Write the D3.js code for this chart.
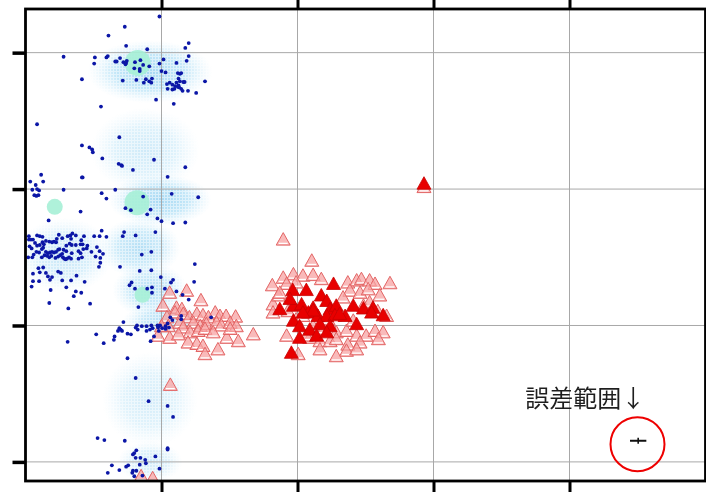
<!DOCTYPE html>
<html>
<head>
<meta charset="utf-8">
<script src="https://cdn.jsdelivr.net/npm/d3@7"></script>
<style>
  html, body { margin: 0; padding: 0; background: #fff; }
  svg { display: block; }
</style>
</head>
<body>
<svg id="chart" width="706" height="492"></svg>
<script>
// Grid positions on both axes (labels are not shown on this plot)
const xTicks = [200, 400, 600, 800];
const yTicks = [200, 400, 600, 800];

// Diffuse background population: soft clouds [x, y, spreadX, spreadY, strength]
const hazeClouds = [
  [183, 772, 92, 46, 1.0],
  [176, 657, 80, 62, 0.55],
  [198, 584, 76, 38, 1.0],
  [168, 514, 60, 44, 0.85],
  [58, 503, 70, 55, 0.65],
  [183, 452, 55, 40, 0.85],
  [205, 408, 62, 24, 0.85],
  [183, 291, 70, 70, 0.5],
  [183, 200, 48, 30, 0.55]
];

// Cluster centres [x, y, weight]
const mintBlobs = [
  [165, 785, 13],
  [43, 574, 8],
  [164, 580, 12.5],
  [172, 445, 8]
];

// Individual samples [x, y]
const blueDots = [
  [197,853],[146,838],[122,825],[240,814],[148,810],[235,807],[179,805],[56,794],[102,793],[121,795],
  [119,793],[139,792],[240,795],[203,790],[132,787],[134,787],[144,786],[149,788],[148,785],[147,783],
  [161,786],[169,789],[173,782],[101,784],[197,784],[237,788],[222,785],[182,780],[160,777],[168,776],
  [168,773],[200,773],[206,771],[224,770],[227,769],[229,770],[83,761],[143,759],[163,760],[177,761],
  [186,762],[174,756],[182,758],[185,756],[225,762],[264,758],[208,754],[212,756],[216,753],[220,751],
  [224,750],[226,749],[229,747],[231,744],[219,747],[216,746],[209,747],[222,756],[227,758],[232,757],
  [234,757],[239,744],[251,741],[225,752],[192,731],[218,725],[111,721],
  [17,695],[138,676],[83,664],[94,661],[98,658],[99,654],[113,645],[189,643],[137,637],[141,635],
  [142,634],[158,628],[235,632],[23,621],[83,617],[84,617],[209,618],[7,611],[26,611],[15,606],
  [10,599],[17,600],[20,598],[13,591],[16,590],[19,591],[56,599],[132,599],[112,594],[119,586],
  [173,589],[215,593],[254,588],[81,567],[147,572],[155,569],[184,570],[179,563],[194,557],[34,554],
  [200,553],[217,550],[235,551],
  [5,531],[8,526],[11,526],[17,532],[21,531],[25,530],[14,521],[17,517],[21,518],[25,522],
  [27,519],[30,524],[35,523],[39,522],[42,523],[30,508],[33,506],[36,507],[39,508],[42,507],
  [45,508],[48,511],[50,512],[16,508],[20,507],[24,512],[26,514],[12,504],[10,500],[24,500],
  [28,503],[32,502],[35,500],[38,502],[44,499],[48,501],[51,503],[55,500],[57,498],[61,498],
  [64,500],[67,498],[62,531],[66,532],[69,535],[74,532],[67,527],[82,525],[86,531],[101,531],
  [109,531],[112,539],[119,530],[60,517],[65,520],[68,518],[74,518],[81,519],[84,519],[91,517],
  [78,509],[81,506],[85,512],[90,513],[97,508],[105,515],[109,509],[114,505],[103,501],[110,499],
  [83,500],[78,498],[68,506],[60,509],[56,511],[54,505],[59,497],[45,522],[46,527],[49,533],
  [54,528],[4,500],[5,526],[9,513],[6,516],[11,476],[19,484],[26,485],[21,478],[30,477],
  [33,472],[36,467],[39,471],[48,479],[52,477],[54,466],[67,466],[75,473],[87,464],[20,465],
  [11,465],[9,457],[37,452],[60,456],[74,450],[82,448],[71,443],[35,433],[63,425],[95,432],
  [110,492],[108,486],[139,486],[145,537],[143,531],[162,532],[171,504],[185,508],[191,537],[185,481],
  [168,480],[156,463],[153,459],[161,454],[179,454],[186,456],[186,448],[166,427],[199,471],[217,467],
  [214,463],[205,454],[222,450],[231,445],[240,438],[249,490],[248,464],[229,414],[229,409],[213,412],
  [216,408],[144,405],[138,396],[164,400],[171,399],[178,399],[185,400],[194,400],[198,400],[206,399],
  [209,403],[273,412],
  [136,392],[140,394],[142,392],[150,388],[155,387],[162,397],[165,394],[178,392],[183,394],[187,396],
  [195,397],[196,392],[201,396],[206,395],[211,397],[104,387],[131,384],[130,379],[115,374],[62,376],
  [189,384],[184,377],[150,352],[162,323],[181,289],[209,282],[217,266],[106,235],[116,232],[146,231],
  [163,217],[160,213],[158,211],[162,206],[169,206],[176,203],[177,198],[168,196],[191,208],[209,220],
  [209,218],[127,195],[148,193],[151,195],[138,188],[158,187],[157,184],[163,187],[121,184],[197,190],
  [160,179],[172,180]
];

const pinkTriangles = [
  [212,449],[237,452],[258,438],[202,430],[222,427],[230,425],[220,420],[232,418],[241,413],[252,418],
  [261,416],[279,420],[286,415],[295,415],[309,414],[269,413],[208,413],[210,400],[195,386],[212,383],
  [227,405],[232,398],[247,405],[257,400],[266,403],[281,405],[288,401],[301,405],[310,400],[242,391],
  [254,393],[264,396],[276,391],[296,383],[313,378],[335,388],[239,376],[252,374],[261,371],[264,359],
  [283,366],[225,388],[200,400],[301,396],[213,314],[170,180],[187,177],
  [379,527],[421,496],[394,476],[408,474],[423,475],[435,469],[379,471],[363,460],[384,462],[398,464],
  [474,464],[487,467],[494,469],[506,467],[514,462],[536,463],[477,452],[492,449],[504,454],[521,445],
  [364,432],[372,445],[467,442],[497,430],[506,435],[518,422],[531,415],[364,420],[386,422],[398,410],
  [408,415],[423,400],[438,396],[457,391],[472,393],[487,386],[501,386],[514,393],[526,391],[519,381],
  [418,383],[433,378],[448,378],[457,381],[474,373],[492,376],[433,366],[472,364],[487,366],[457,356],
  [401,359],[413,386],[384,386],[374,449],[445,410],[482,408],[586,604]
];

const redTriangles = [
  [393,453],[413,453],[453,462],[374,425],[394,430],[389,440],[406,432],[423,427],[435,445],[443,437],
  [448,425],[457,430],[482,430],[497,426],[511,427],[526,416],[509,420],[416,420],[430,415],[443,415],
  [455,416],[470,415],[394,408],[403,400],[433,403],[448,400],[487,403],[418,395],[403,383],[428,386],
  [443,391],[391,361],[423,423],[408,420],[462,418],[586,609]
];

// Reference measurement with its uncertainty [x, y, errX, errY]
const errorSample = [901, 231, 12, 4.4];
const errorLabel = "誤差範囲↓";
const errorLabelAt = [735, 281];
const errorRingAt = [900, 226];

const plot = { left: 25.5, top: 9, right: 705.5, bottom: 481 };

const x = d3.scaleLinear().domain([0, 1000]).range([plot.left, plot.right]);
const y = d3.scaleLinear().domain([172, 864]).range([plot.bottom, plot.top]);

const svg = d3.select("#chart");
const defs = svg.append("defs");

defs.append("clipPath").attr("id", "plotClip")
  .append("rect")
  .attr("x", plot.left).attr("y", plot.top)
  .attr("width", plot.right - plot.left).attr("height", plot.bottom - plot.top);

const haze = defs.append("radialGradient").attr("id", "hazeGrad");
haze.append("stop").attr("offset", "0%").attr("stop-color", "#a6d8f3").attr("stop-opacity", 1);
haze.append("stop").attr("offset", "55%").attr("stop-color", "#b9e3f7").attr("stop-opacity", 0.85);
haze.append("stop").attr("offset", "100%").attr("stop-color", "#d4eefb").attr("stop-opacity", 0);

// grainy texture for the haze: a mask of small squares
const speck = defs.append("pattern").attr("id", "speck")
  .attr("patternUnits", "userSpaceOnUse").attr("width", 3).attr("height", 3);
speck.append("rect").attr("width", 3).attr("height", 3).attr("fill", "#fff").attr("opacity", 0.5);
speck.append("rect").attr("x", 0).attr("y", 0).attr("width", 2).attr("height", 2).attr("fill", "#fff");
defs.append("mask").attr("id", "speckMask")
  .attr("maskUnits", "userSpaceOnUse")
  .attr("x", 0).attr("y", 0).attr("width", 706).attr("height", 492)
  .append("rect").attr("width", 706).attr("height", 492).attr("fill", "url(#speck)");

const body = svg.append("g").attr("clip-path", "url(#plotClip)");

// haze clouds
body.append("g").attr("mask", "url(#speckMask)")
  .selectAll("ellipse").data(hazeClouds).join("ellipse")
  .attr("cx", d => x(d[0])).attr("cy", d => y(d[1]))
  .attr("rx", d => x(d[0] + d[2]) - x(d[0]))
  .attr("ry", d => y(d[1]) - y(d[1] + d[3]))
  .attr("fill", "url(#hazeGrad)")
  .attr("opacity", d => d[4]);

// grid
const grid = svg.append("g");
grid.selectAll(".gx").data(xTicks).join("line")
  .attr("x1", d => x(d)).attr("x2", d => x(d))
  .attr("y1", plot.top).attr("y2", plot.bottom)
  .attr("stroke", "#a8a8a8").attr("stroke-width", 1);
grid.selectAll(".gy").data(yTicks).join("line")
  .attr("y1", d => y(d)).attr("y2", d => y(d))
  .attr("x1", plot.left).attr("x2", plot.right)
  .attr("stroke", "#a8a8a8").attr("stroke-width", 1);

const marks = svg.append("g").attr("clip-path", "url(#plotClip)");

// cluster centres
const r = d3.scaleLinear().domain([0, 13]).range([0, 13]);
marks.append("g").selectAll("circle").data(mintBlobs).join("circle")
  .attr("cx", d => x(d[0])).attr("cy", d => y(d[1])).attr("r", d => r(d[2]))
  .attr("fill", "#a6f0d6").attr("opacity", 0.9);

// triangle marker geometry
const TW = 14, TH = 12.5;
const triPath = `M0,${-TH/2}L${TW/2},${TH/2}L${-TW/2},${TH/2}Z`;

const pinkSel = marks.append("g").selectAll("g").data(pinkTriangles).join("g")
  .attr("transform", d => `translate(${x(d[0])},${y(d[1])})`);
pinkSel.append("path").attr("d", triPath)
  .attr("fill", "#f7a3a3").attr("fill-opacity", 0.75)
  .attr("stroke", "#e26464").attr("stroke-width", 1);
pinkSel.append("line")
  .attr("x1", -TW/2 + 2.5).attr("x2", TW/2 - 2.5)
  .attr("y1", TH/2 - 1.8).attr("y2", TH/2 - 1.8)
  .attr("stroke", "#ffffff").attr("stroke-width", 1.3);

// samples
marks.append("g").selectAll("circle").data(blueDots).join("circle")
  .attr("cx", d => x(d[0])).attr("cy", d => y(d[1])).attr("r", 1.9)
  .attr("fill", "#0b16a6");

marks.append("g").selectAll("path").data(redTriangles).join("path")
  .attr("transform", d => `translate(${x(d[0])},${y(d[1])})`)
  .attr("d", triPath)
  .attr("fill", "#e80000").attr("stroke", "#c80000").attr("stroke-width", 0.8);

// error bar sample and annotation
const [ex, ey, edx, edy] = errorSample;
const eg = svg.append("g");
eg.append("line")
  .attr("x1", x(ex - edx)).attr("x2", x(ex + edx))
  .attr("y1", y(ey)).attr("y2", y(ey))
  .attr("stroke", "#111").attr("stroke-width", 2);
eg.append("line")
  .attr("x1", x(ex)).attr("x2", x(ex))
  .attr("y1", y(ey - edy)).attr("y2", y(ey + edy))
  .attr("stroke", "#111").attr("stroke-width", 1.6);
eg.append("circle")
  .attr("cx", x(errorRingAt[0])).attr("cy", y(errorRingAt[1])).attr("r", 27)
  .attr("fill", "none").attr("stroke", "#ee0000").attr("stroke-width", 2);
eg.append("text")
  .attr("x", x(errorLabelAt[0])).attr("y", y(errorLabelAt[1]))
  .attr("font-family", "'Noto Sans CJK JP', 'Noto Sans CJK SC', sans-serif")
  .attr("font-size", 24).attr("fill", "#1e1e1e")
  .text(errorLabel);

// frame and ticks
svg.append("rect")
  .attr("x", plot.left).attr("y", plot.top)
  .attr("width", plot.right - plot.left).attr("height", plot.bottom - plot.top)
  .attr("fill", "none").attr("stroke", "#000").attr("stroke-width", 2.8);

function styleAxis(g, w) {
  g.select(".domain").remove();
  g.selectAll(".tick line").attr("stroke", "#000").attr("stroke-width", w);
  g.selectAll(".tick text").remove();
}
svg.append("g").attr("transform", `translate(0,${plot.top})`)
  .call(d3.axisTop(x).tickValues(xTicks).tickSize(9).tickFormat(""))
  .call(g => styleAxis(g, 3));
svg.append("g").attr("transform", `translate(0,${plot.bottom})`)
  .call(d3.axisBottom(x).tickValues(xTicks).tickSize(11).tickFormat(""))
  .call(g => styleAxis(g, 3));
svg.append("g").attr("transform", `translate(${plot.left},0)`)
  .call(d3.axisLeft(y).tickValues(yTicks).tickSize(13).tickFormat(""))
  .call(g => styleAxis(g, 3.5));
</script>
</body>
</html>
